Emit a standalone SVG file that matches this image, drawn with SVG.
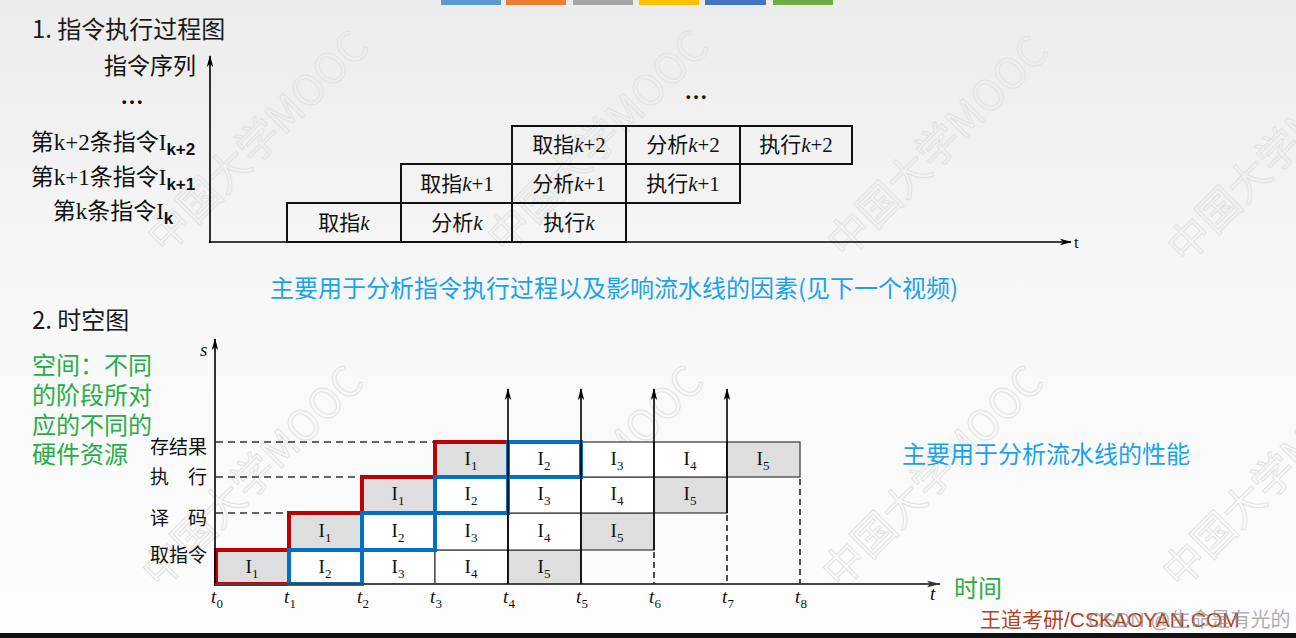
<svg xmlns="http://www.w3.org/2000/svg" width="1296" height="638" viewBox="0 0 1296 638">
<defs>
<linearGradient id="bg" x1="0" y1="0" x2="0" y2="1">
<stop offset="0" stop-color="#ECECEC"/>
<stop offset="0.5" stop-color="#F8F8F8"/>
<stop offset="1" stop-color="#FDFDFD"/>
</linearGradient>
<marker id="arr" markerUnits="userSpaceOnUse" markerWidth="12" markerHeight="8" refX="11" refY="4" orient="auto">
<path d="M0,0.8 L12,4 L0,7.2 L3,4 Z" fill="#000"/>
</marker>
<marker id="arrg" markerUnits="userSpaceOnUse" markerWidth="14" markerHeight="8" refX="13" refY="4" orient="auto">
<path d="M0,0.8 L14,4 L0,7.2 L3,4 Z" fill="#333"/>
</marker>
<style>
.wm{font-family:"Noto Sans CJK SC","Noto Sans",sans-serif;font-size:42px;fill:none;stroke:#E2E2E2;stroke-width:1}
.h{font-family:"Noto Sans CJK SC","Noto Sans",sans-serif;font-size:24px;fill:#1a1a1a}
.lab{font-family:"Liberation Serif","Noto Sans CJK SC",serif;font-size:23px;fill:#111}
.sub{font-family:"Liberation Sans","Noto Sans",sans-serif;font-size:17px;font-weight:bold}
.cell{fill:none;stroke:#111;stroke-width:2}
.ct{font-family:"Liberation Serif","Noto Sans CJK SC",serif;font-size:21px;fill:#111;text-anchor:middle}
.it{font-style:italic}
.blue{font-family:"Noto Sans CJK SC","Noto Sans",sans-serif;font-size:24px;fill:#1AA3EC}
.green{font-family:"Noto Sans CJK SC","Noto Sans",sans-serif;font-size:24px;fill:#26AD4A}
.g{fill:#DEDEDE;stroke:#444;stroke-width:1.3}
.w{fill:#FFFFFF;stroke:#444;stroke-width:1.3}
.it2{font-family:"Liberation Serif","Noto Sans CJK SC",serif;font-size:19px;fill:#111;text-anchor:middle}
.isub{font-size:13px}
.st{font-family:"Noto Sans CJK SC","Noto Sans",sans-serif;font-size:19px;fill:#111}
.tk{font-family:"Liberation Serif",serif;font-style:italic;font-size:19px;fill:#111;text-anchor:middle}
.tsub{font-style:normal;font-size:13px}
.red{fill:none;stroke:#C00000;stroke-width:4}
.blu{fill:none;stroke:#0070C0;stroke-width:4}
.dash{stroke:#333;stroke-width:1.5;stroke-dasharray:7,5;fill:none}
.vd{stroke:#222;stroke-width:1.6;stroke-dasharray:6,4;fill:none}
.ax{stroke:#000;stroke-width:1.6;fill:none}
</style>
</defs>
<rect x="0" y="0" width="1296" height="638" fill="url(#bg)"/>

<g id="watermarks">
<text class="wm" x="165" y="255" transform="rotate(-45 165 255)">中国大学MOOC</text>
<text class="wm" x="505" y="255" transform="rotate(-45 505 255)">中国大学MOOC</text>
<text class="wm" x="845" y="260" transform="rotate(-45 845 260)">中国大学MOOC</text>
<text class="wm" x="1185" y="265" transform="rotate(-45 1185 265)">中国大学MOOC</text>
<text class="wm" x="160" y="590" transform="rotate(-45 160 590)">中国大学MOOC</text>
<text class="wm" x="500" y="590" transform="rotate(-45 500 590)">中国大学MOOC</text>
<text class="wm" x="840" y="590" transform="rotate(-45 840 590)">中国大学MOOC</text>
<text class="wm" x="1180" y="590" transform="rotate(-45 1180 590)">中国大学MOOC</text>
</g>

<g id="colorbars">
<rect x="441" y="0" width="60" height="5" fill="#5B9BD5"/>
<rect x="506" y="0" width="60" height="5" fill="#ED7D31"/>
<rect x="573" y="0" width="60" height="5" fill="#A5A5A5"/>
<rect x="639" y="0" width="60" height="5" fill="#FFC000"/>
<rect x="705" y="0" width="61" height="5" fill="#4472C4"/>
<rect x="773" y="0" width="60" height="5" fill="#70AD47"/>
</g>

<g id="title1"><text class="h" x="32" y="38">1. 指令执行过程图</text></g>

<g id="top-labels">
<text class="lab" x="150" y="74" text-anchor="middle" font-size="24">指令序列</text>
<text class="lab" x="132" y="104" text-anchor="middle" font-weight="bold">…</text>
<text class="lab" x="113" y="150" text-anchor="middle">第k+2条指令I<tspan class="sub" dy="5">k+2</tspan></text>
<text class="lab" x="113" y="185" text-anchor="middle">第k+1条指令I<tspan class="sub" dy="5">k+1</tspan></text>
<text class="lab" x="113" y="219" text-anchor="middle">第k条指令I<tspan class="sub" dy="5">k</tspan></text>
<text class="lab" x="696" y="99" text-anchor="middle" font-weight="bold">…</text>
</g>

<g id="connectors-top">
<line class="ax" x1="210" y1="243" x2="210" y2="56" marker-end="url(#arr)"/>
<line class="ax" x1="209" y1="242" x2="1071" y2="242" marker-end="url(#arr)"/>
<text x="1074" y="248" font-family="Liberation Serif, serif" font-size="17" fill="#111">t</text>
</g>

<g id="top-cells">
<g id="row-k">
<rect class="cell" x="287" y="203" width="114" height="39"/>
<rect class="cell" x="401" y="203" width="111" height="39"/>
<rect class="cell" x="512" y="203" width="114" height="39"/>
<text class="ct" x="344" y="230">取指<tspan class="it">k</tspan></text>
<text class="ct" x="457" y="230">分析<tspan class="it">k</tspan></text>
<text class="ct" x="569" y="230">执行<tspan class="it">k</tspan></text>
</g>
<g id="row-k1">
<rect class="cell" x="401" y="164" width="111" height="39"/>
<rect class="cell" x="512" y="164" width="114" height="39"/>
<rect class="cell" x="626" y="164" width="114" height="39"/>
<text class="ct" x="457" y="191">取指<tspan class="it">k</tspan>+1</text>
<text class="ct" x="569" y="191">分析<tspan class="it">k</tspan>+1</text>
<text class="ct" x="683" y="191">执行<tspan class="it">k</tspan>+1</text>
</g>
<g id="row-k2">
<rect class="cell" x="512" y="126" width="114" height="38"/>
<rect class="cell" x="626" y="126" width="114" height="38"/>
<rect class="cell" x="740" y="126" width="112" height="38"/>
<text class="ct" x="569" y="152">取指<tspan class="it">k</tspan>+2</text>
<text class="ct" x="683" y="152">分析<tspan class="it">k</tspan>+2</text>
<text class="ct" x="796" y="152">执行<tspan class="it">k</tspan>+2</text>
</g>
</g>

<g id="note1"><text class="blue" x="270" y="297" font-size="24.4">主要用于分析指令执行过程以及影响流水线的因素(见下一个视频)</text></g>

<g id="title2"><text class="h" x="32" y="329">2. 时空图</text></g>

<g id="space-note">
<text class="green" x="32" y="374">空间：不同</text>
<text class="green" x="32" y="404">的阶段所对</text>
<text class="green" x="32" y="434">应的不同的</text>
<text class="green" x="32" y="463">硬件资源</text>
</g>

<g id="stage-labels">
<text class="st" x="150" y="454">存结果</text>
<text class="st" y="484"><tspan x="150">执</tspan><tspan x="188">行</tspan></text>
<text class="st" y="525"><tspan x="150">译</tspan><tspan x="188">码</tspan></text>
<text class="st" x="150" y="562">取指令</text>
</g>

<g id="grid">
<rect class="g" x="216" y="550" width="73" height="34"/>
<rect class="w" x="289" y="550" width="73" height="34"/>
<rect class="w" x="362" y="550" width="73" height="34"/>
<rect class="w" x="435" y="550" width="73" height="34"/>
<rect class="g" x="508" y="550" width="73" height="34"/>
<rect class="g" x="289" y="513" width="73" height="37"/>
<rect class="w" x="362" y="513" width="73" height="37"/>
<rect class="w" x="435" y="513" width="73" height="37"/>
<rect class="w" x="508" y="513" width="73" height="37"/>
<rect class="g" x="581" y="513" width="73" height="37"/>
<rect class="g" x="362" y="477" width="73" height="36"/>
<rect class="w" x="435" y="477" width="73" height="36"/>
<rect class="w" x="508" y="477" width="73" height="36"/>
<rect class="w" x="581" y="477" width="73" height="36"/>
<rect class="g" x="654" y="477" width="73" height="36"/>
<rect class="g" x="435" y="442" width="73" height="35"/>
<rect class="w" x="508" y="442" width="73" height="35"/>
<rect class="w" x="581" y="442" width="73" height="35"/>
<rect class="w" x="654" y="442" width="73" height="35"/>
<rect class="g" x="727" y="442" width="73" height="35"/>
</g>

<g id="cell-labels">
<text class="it2" x="252" y="573">I<tspan class="isub" dy="5">1</tspan></text>
<text class="it2" x="325" y="573">I<tspan class="isub" dy="5">2</tspan></text>
<text class="it2" x="398" y="573">I<tspan class="isub" dy="5">3</tspan></text>
<text class="it2" x="471" y="573">I<tspan class="isub" dy="5">4</tspan></text>
<text class="it2" x="544" y="573">I<tspan class="isub" dy="5">5</tspan></text>
<text class="it2" x="325" y="537">I<tspan class="isub" dy="5">1</tspan></text>
<text class="it2" x="398" y="537">I<tspan class="isub" dy="5">2</tspan></text>
<text class="it2" x="471" y="537">I<tspan class="isub" dy="5">3</tspan></text>
<text class="it2" x="544" y="537">I<tspan class="isub" dy="5">4</tspan></text>
<text class="it2" x="617" y="537">I<tspan class="isub" dy="5">5</tspan></text>
<text class="it2" x="398" y="500">I<tspan class="isub" dy="5">1</tspan></text>
<text class="it2" x="471" y="500">I<tspan class="isub" dy="5">2</tspan></text>
<text class="it2" x="544" y="500">I<tspan class="isub" dy="5">3</tspan></text>
<text class="it2" x="617" y="500">I<tspan class="isub" dy="5">4</tspan></text>
<text class="it2" x="690" y="500">I<tspan class="isub" dy="5">5</tspan></text>
<text class="it2" x="471" y="465">I<tspan class="isub" dy="5">1</tspan></text>
<text class="it2" x="544" y="465">I<tspan class="isub" dy="5">2</tspan></text>
<text class="it2" x="617" y="465">I<tspan class="isub" dy="5">3</tspan></text>
<text class="it2" x="690" y="465">I<tspan class="isub" dy="5">4</tspan></text>
<text class="it2" x="763" y="465">I<tspan class="isub" dy="5">5</tspan></text>
</g>

<g id="highlights">
<rect class="red" x="216" y="550" width="73" height="34"/>
<rect class="red" x="289" y="513" width="73" height="37"/>
<rect class="red" x="362" y="477" width="73" height="36"/>
<rect class="red" x="435" y="442" width="73" height="35"/>
<rect class="blu" x="289" y="550" width="73" height="34"/>
<rect class="blu" x="362" y="513" width="73" height="37"/>
<rect class="blu" x="435" y="477" width="73" height="36"/>
<rect class="blu" x="508" y="442" width="73" height="35"/>
</g>

<g id="connectors-bottom">
<line class="dash" x1="216" y1="442" x2="435" y2="442"/>
<line class="dash" x1="216" y1="477" x2="362" y2="477"/>
<line class="dash" x1="216" y1="513" x2="289" y2="513"/>
<line class="ax" x1="215" y1="585" x2="215" y2="339" marker-end="url(#arr)"/>
<line x1="215" y1="584" x2="940" y2="584" stroke="#444" stroke-width="1.8" marker-end="url(#arrg)"/>
<line class="ax" x1="508" y1="584" x2="508" y2="389" marker-end="url(#arr)"/>
<line class="ax" x1="581" y1="584" x2="581" y2="389" marker-end="url(#arr)"/>
<line class="ax" x1="654" y1="550" x2="654" y2="389" marker-end="url(#arr)"/>
<line class="ax" x1="727" y1="513" x2="727" y2="389" marker-end="url(#arr)"/>
<line class="vd" x1="654" y1="552" x2="654" y2="584"/>
<line class="vd" x1="727" y1="515" x2="727" y2="584"/>
<line class="vd" x1="800" y1="479" x2="800" y2="584"/>
<text x="200" y="356" font-family="Liberation Serif, serif" font-style="italic" font-size="19" fill="#111">s</text>
<text x="930" y="600" font-family="Liberation Serif, serif" font-style="italic" font-size="19" fill="#111">t</text>
</g>

<g id="ticks">
<text class="tk" x="217" y="603">t<tspan class="tsub" dy="5">0</tspan></text>
<text class="tk" x="290" y="603">t<tspan class="tsub" dy="5">1</tspan></text>
<text class="tk" x="363" y="603">t<tspan class="tsub" dy="5">2</tspan></text>
<text class="tk" x="436" y="603">t<tspan class="tsub" dy="5">3</tspan></text>
<text class="tk" x="509" y="603">t<tspan class="tsub" dy="5">4</tspan></text>
<text class="tk" x="582" y="603">t<tspan class="tsub" dy="5">5</tspan></text>
<text class="tk" x="655" y="603">t<tspan class="tsub" dy="5">6</tspan></text>
<text class="tk" x="728" y="603">t<tspan class="tsub" dy="5">7</tspan></text>
<text class="tk" x="801" y="603">t<tspan class="tsub" dy="5">8</tspan></text>
</g>

<g id="time-label"><text class="green" x="954" y="597">时间</text></g>
<g id="note2"><text class="blue" x="902" y="463">主要用于分析流水线的性能</text></g>

<g id="footer">
<text x="980" y="627" font-family="Liberation Sans, Noto Sans CJK SC, sans-serif" font-size="21" fill="#B8401C">王道考研/CSKAOYAN.COM</text>
<text x="1088" y="627" font-family="Liberation Sans, Noto Sans CJK SC, sans-serif" font-size="20" fill="#8A8A8A" fill-opacity="0.7">CSDN @生命是有光的</text>
<rect x="0" y="633" width="1296" height="5" fill="#111"/>
</g>
</svg>
